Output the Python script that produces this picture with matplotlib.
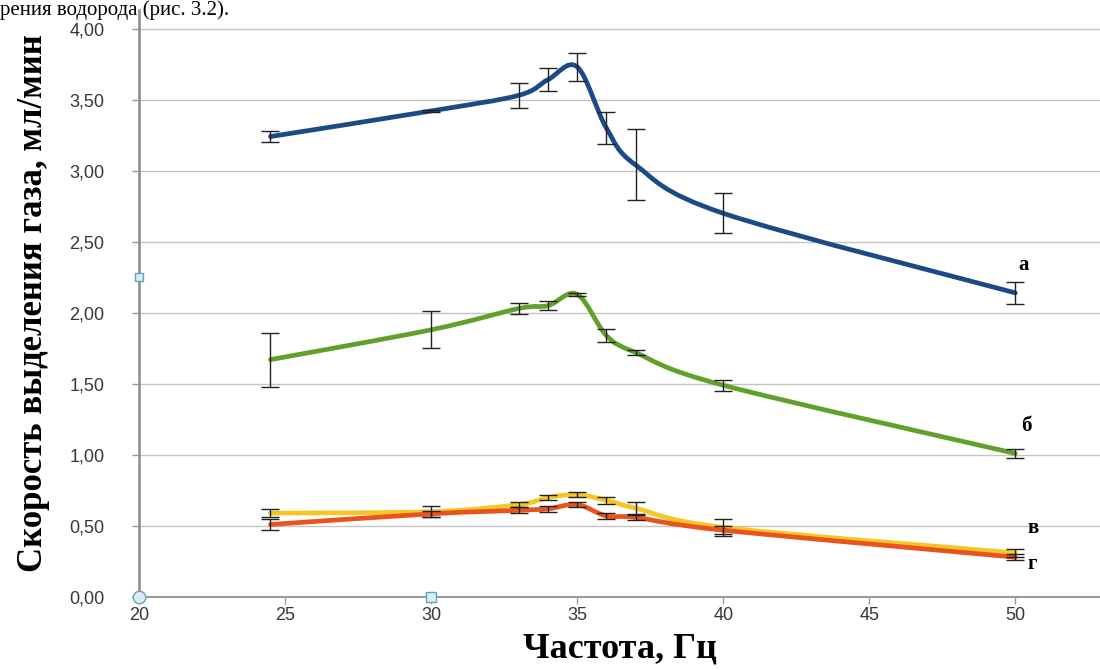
import numpy as np
import matplotlib
matplotlib.use("Agg")
import matplotlib.pyplot as plt
from matplotlib.path import Path
from matplotlib.patches import PathPatch

# ---- data ----
freq = [24.5, 30, 33, 34, 35, 36, 37, 40, 50]
a_vals = [3.24, 3.42, 3.53, 3.64, 3.73, 3.30, 3.04, 2.70, 2.14]
a_err = [0.04, 0.01, 0.09, 0.08, 0.10, 0.115, 0.25, 0.14, 0.075]
b_vals = [1.67, 1.88, 2.03, 2.05, 2.13, 1.84, 1.72, 1.49, 1.01]
b_err = [0.19, 0.13, 0.04, 0.03, 0.01, 0.045, 0.015, 0.04, 0.03]
v_vals = [0.59, 0.60, 0.65, 0.70, 0.72, 0.68, 0.625, 0.49, 0.31]
v_err = [0.03, 0.04, 0.02, 0.02, 0.02, 0.025, 0.04, 0.06, 0.03]
g_vals = [0.51, 0.585, 0.61, 0.62, 0.65, 0.57, 0.56, 0.47, 0.28]
g_err = [0.04, 0.02, 0.02, 0.02, 0.02, 0.02, 0.02, 0.03, 0.02]
series_labels = ["а", "б", "в", "г"]
x_ticks = [20, 25, 30, 35, 40, 45, 50]
y_ticks = [0, 0.5, 1.0, 1.5, 2.0, 2.5, 3.0, 3.5, 4.0]

colors = {"а": "#1a4b86", "б": "#62a02c", "в": "#f5c726", "г": "#e9531d"}

fig = plt.figure(figsize=(11, 6.7), dpi=100)
ax = fig.add_axes([0.1264, 0.109, 0.8736, 0.876])


def smooth_path(xs, ys):
    pts = np.column_stack([xs, ys]).astype(float)
    n = len(pts)
    verts = [pts[0]]
    codes = [Path.MOVETO]
    for i in range(n - 1):
        p0 = pts[i - 1] if i > 0 else pts[i]
        p1 = pts[i]
        p2 = pts[i + 1]
        p3 = pts[i + 2] if i + 2 < n else pts[i + 1]
        c1 = p1 + (p2 - p0) / 6.0
        c2 = p2 - (p3 - p1) / 6.0
        verts += [c1, c2, p2]
        codes += [Path.CURVE4] * 3
    return Path(verts, codes)


series = [("в", v_vals, v_err), ("г", g_vals, g_err),
          ("б", b_vals, b_err), ("а", a_vals, a_err)]
for name, vals, errs in series:
    patch = PathPatch(smooth_path(freq, vals), fill=False,
                      edgecolor=colors[name], lw=3.4, zorder=3,
                      capstyle="round", joinstyle="round")
    ax.add_patch(patch)
    ax.errorbar(freq, vals, yerr=errs, fmt="none", ecolor="#222222",
                elinewidth=1.0, capsize=6.5, capthick=1.0, zorder=4)

# series labels
lab_pos = {"а": (50.1, 2.30), "б": (50.2, 1.17), "в": (50.4, 0.45), "г": (50.4, 0.20)}
for name in series_labels:
    x, y = lab_pos[name]
    ax.text(x, y, name, fontsize=15, fontweight="bold",
            family="Liberation Serif", ha="left", va="baseline", zorder=5)

# selection-handle artifacts
ax.plot([20], [2.25], marker="s", ms=6, mfc="#d8eef6", mec="#6a9fb5",
        mew=1, clip_on=False, zorder=6)
ax.plot([30], [0], marker="s", ms=7, mfc="#d8eef6", mec="#6a9fb5",
        mew=1, clip_on=False, zorder=6)
ax.plot([20], [0], marker="o", ms=9, mfc="#d8eef6", mec="#6a9fb5",
        mew=1, clip_on=False, zorder=6)

ax.set_xlim(20, 52.9)
ax.set_ylim(0, 4.13)
ax.set_xticks(x_ticks)
ax.set_yticks(y_ticks)
ax.set_yticklabels([f"{v:.2f}".replace(".", ",") for v in y_ticks])
ax.set_xticklabels([str(t) for t in x_ticks])
ax.tick_params(axis="both", labelsize=13, colors="#999999",
               labelcolor="#383838", length=5, width=1)
ax.tick_params(axis="y", pad=20)
ax.tick_params(axis="x", pad=2)
for t in ax.get_xticklabels() + ax.get_yticklabels():
    t.set_family("Liberation Sans")
ax.grid(axis="y", color="#c4c4c4", lw=1)
ax.set_axisbelow(True)
for s in ["top", "right"]:
    ax.spines[s].set_visible(False)
ax.spines["left"].set_color("#8c8c8c")
ax.spines["left"].set_linewidth(1.8)
ax.spines["bottom"].set_color("#9a9a9a")
ax.spines["bottom"].set_linewidth(1.5)

ax.set_xlabel("Частота, Гц", fontsize=26, fontweight="bold",
              family="Liberation Serif", labelpad=6)
ax.set_ylabel("Скорость выделения газа, мл/мин", fontsize=25,
              fontweight="bold", family="Liberation Serif", labelpad=14)

# caption line at top (partially visible in source)
fig.text(0.0, 0.978, "рения водорода (рис. 3.2).", fontsize=15,
         family="Liberation Serif", ha="left", va="baseline")

fig.savefig("out.png", dpi=100)
